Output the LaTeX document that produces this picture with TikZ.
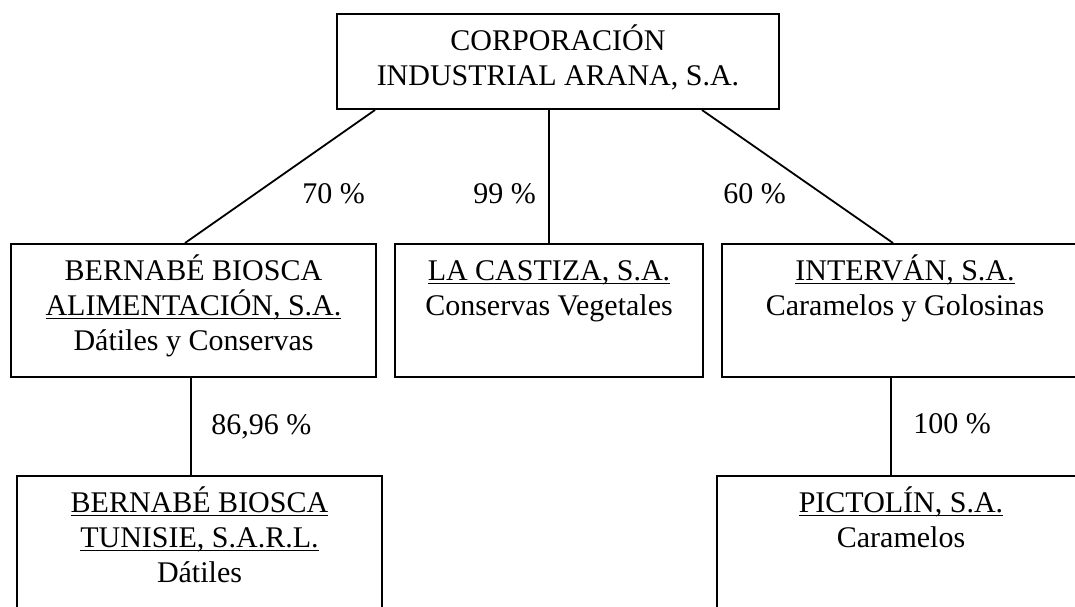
\documentclass[tikz,border=0pt]{standalone}
\usepackage{fontspec}
\setmainfont{Liberation Serif}
\usetikzlibrary{positioning}
\newcommand\und[1]{\setbox0\hbox{#1}\rlap{\rule[-1.9pt]{\wd0}{0.7pt}}\box0}
\newcommand\tp{\rule{0pt}{14pt}}

\begin{document}
\begin{tikzpicture}[x=0.5pt,y=-0.5pt,
  box/.style={draw,line width=1pt,inner sep=0pt},
  txt/.style={align=center,inner sep=0pt,font=\fontsize{15}{17.5}\selectfont},
  pct/.style={anchor=base west,inner sep=0pt,font=\fontsize{15}{17.5}\selectfont},
  link/.style={line width=0.9pt}]
  \clip (0,0) rectangle (1075,606);
  \node[box,minimum width=221pt,minimum height=47.5pt] (corp) at (558,61.5) {};
  \node[box,minimum width=182.5pt,minimum height=66.5pt] (bba) at (193.5,310.5) {};
  \node[box,minimum width=154pt,minimum height=66.5pt] (cast) at (549,310.5) {};
  \node[box,minimum width=183pt,minimum height=66.5pt] (interv) at (905,310.5) {};
  \node[box,minimum width=182.5pt,minimum height=70pt] (bbt) at (199.5,546) {};
  \node[box,minimum width=184pt,minimum height=70pt] (pict) at (901,546) {};

  \node[txt,below=4.5pt of corp.north] (corpT) {\tp CORPORACIÓN\\INDUSTRIAL ARANA, S.A.};
  \node[txt,below=4.5pt of bba.north] (bbaT) {\tp BERNABÉ BIOSCA\\\und{ALIMENTACIÓN, S.A.}\\Dátiles y Conservas};
  \node[txt,below=4.5pt of cast.north] (castT) {\tp\und{LA CASTIZA, S.A.}\\Conservas Vegetales};
  \node[txt,below=4.5pt of interv.north] (intervT) {\tp\und{INTERVÁN, S.A.}\\Caramelos y Golosinas};
  \node[txt,below=4.5pt of bbt.north] (bbtT) {\tp\und{BERNABÉ BIOSCA}\\\und{TUNISIE, S.A.R.L.}\\Dátiles};
  \node[txt,below=4.5pt of pict.north] (pictT) {\tp\und{PICTOLÍN, S.A.}\\Caramelos};

  \draw[link] ([xshift=-91.5pt]corp.south) -- ([xshift=-4.25pt]bba.north);
  \draw[link] (cast.north) -- (cast.north |- corp.south);
  \draw[link] ([xshift=72pt]corp.south) -- ([xshift=-6pt]interv.north);
  \draw[link] ([xshift=-4.25pt]bbt.north) -- ([xshift=-4.25pt]bbt.north |- bba.south);
  \draw[link] ([xshift=-5pt]pict.north) -- ([xshift=-5pt]pict.north |- interv.south);

  \node[pct] (p70) at (302,203) {70 \%};
  \node[pct] (p99) at (473,203) {99 \%};
  \node[pct] (p60) at (723,203) {60 \%};
  \node[pct] (p8696) at (211,434) {86,96 \%};
  \node[pct] (p100) at (913,433) {100 \%};
\end{tikzpicture}
\end{document}
